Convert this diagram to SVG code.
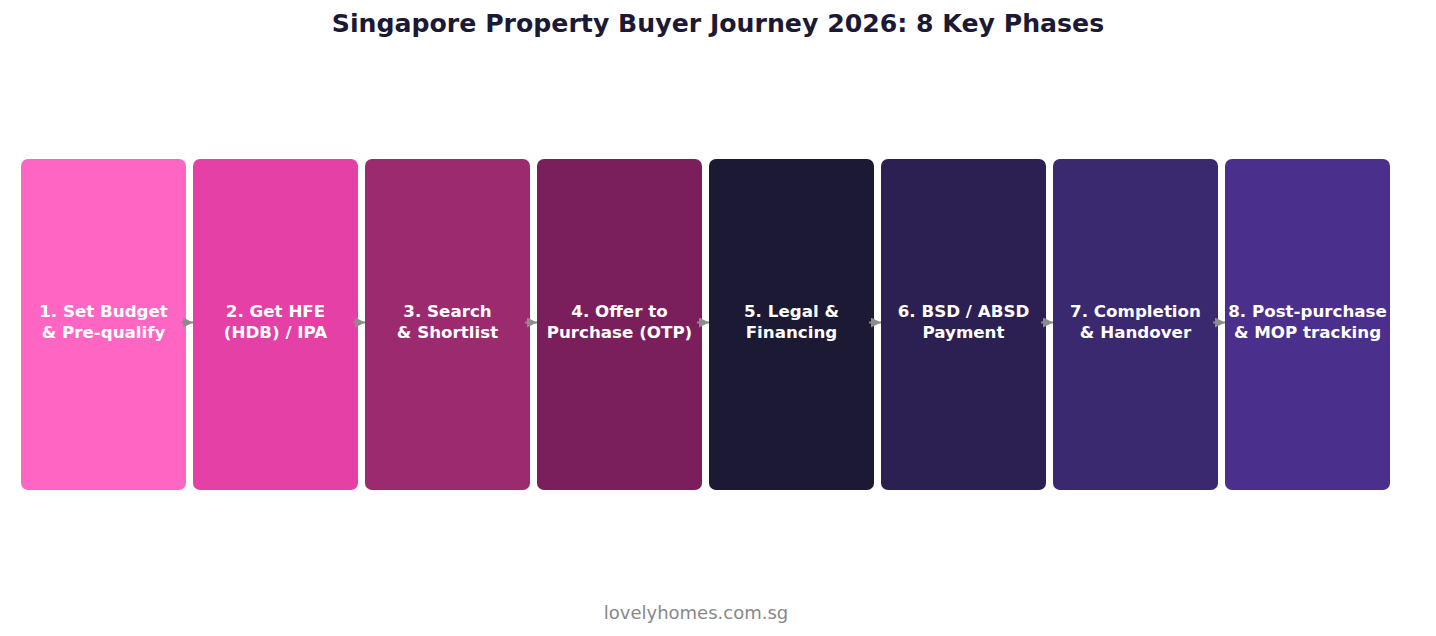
<svg xmlns="http://www.w3.org/2000/svg" width="1436" height="636" viewBox="0 0 1436 636">
<style>
.box{stroke:none}
.lbl{font-family:"DejaVu Sans",sans-serif;font-weight:bold;font-size:16.7px;fill:#ffffff;text-anchor:middle}
.title{font-family:"DejaVu Sans",sans-serif;font-weight:bold;font-size:25.2px;fill:#1c1934;text-anchor:middle}
.foot{font-family:"DejaVu Sans",sans-serif;font-size:18px;fill:#888888;text-anchor:middle}
.conn{stroke:#8c8c8c;stroke-width:2;fill:none;marker-end:url(#ah)}
</style>
<defs>
<marker id="ah" viewBox="0 0 10 10" refX="10" refY="5" markerWidth="10" markerHeight="10" markerUnits="userSpaceOnUse" orient="auto">
<path d="M0,0 L10,5 L0,10 z" fill="#8c8c8c"/>
</marker>
</defs>
<rect width="1436" height="636" fill="#ffffff"/>
<text class="title" x="718" y="32">Singapore Property Buyer Journey 2026: 8 Key Phases</text>
<g id="n1"><rect class="box" x="21" y="159" width="165" height="331" rx="7" fill="#ff66c4"/><text class="lbl" x="103.5" y="317">1. Set Budget</text><text class="lbl" x="103.5" y="338">&amp; Pre-qualify</text></g>
<g id="n2"><rect class="box" x="193" y="159" width="165" height="331" rx="7" fill="#e540a5"/><text class="lbl" x="275.5" y="317">2. Get HFE</text><text class="lbl" x="275.5" y="338">(HDB) / IPA</text></g>
<g id="n3"><rect class="box" x="365" y="159" width="165" height="331" rx="7" fill="#9b2a6f"/><text class="lbl" x="447.5" y="317">3. Search</text><text class="lbl" x="447.5" y="338">&amp; Shortlist</text></g>
<g id="n4"><rect class="box" x="537" y="159" width="165" height="331" rx="7" fill="#7b1f5c"/><text class="lbl" x="619.5" y="317">4. Offer to</text><text class="lbl" x="619.5" y="338">Purchase (OTP)</text></g>
<g id="n5"><rect class="box" x="709" y="159" width="165" height="331" rx="7" fill="#1c1934"/><text class="lbl" x="791.5" y="317">5. Legal &amp;</text><text class="lbl" x="791.5" y="338">Financing</text></g>
<g id="n6"><rect class="box" x="881" y="159" width="165" height="331" rx="7" fill="#2c2052"/><text class="lbl" x="963.5" y="317">6. BSD / ABSD</text><text class="lbl" x="963.5" y="338">Payment</text></g>
<g id="n7"><rect class="box" x="1053" y="159" width="165" height="331" rx="7" fill="#3a296f"/><text class="lbl" x="1135.5" y="317">7. Completion</text><text class="lbl" x="1135.5" y="338">&amp; Handover</text></g>
<g id="n8"><rect class="box" x="1225" y="159" width="165" height="331" rx="7" fill="#4a2f8d"/><text class="lbl" x="1307.5" y="317">8. Post-purchase</text><text class="lbl" x="1307.5" y="338">&amp; MOP tracking</text></g>
<g id="connectors">
<path class="conn" d="M181,322.5 H193"/>
<path class="conn" d="M353,322.5 H365"/>
<path class="conn" d="M525,322.5 H537"/>
<path class="conn" d="M697,322.5 H709"/>
<path class="conn" d="M869,322.5 H881"/>
<path class="conn" d="M1041,322.5 H1053"/>
<path class="conn" d="M1213,322.5 H1225"/>
</g>
<text class="foot" x="696" y="619">lovelyhomes.com.sg</text>
</svg>
